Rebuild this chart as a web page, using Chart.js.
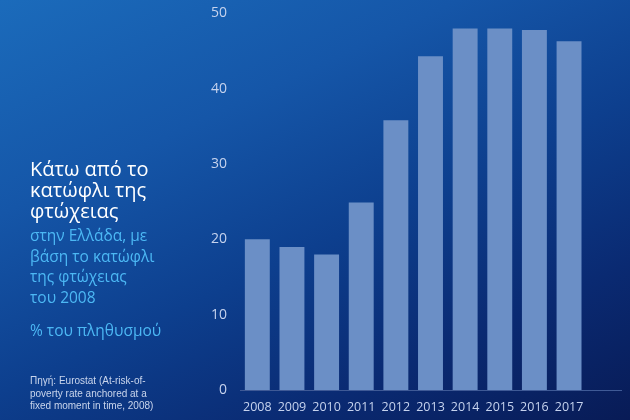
<!DOCTYPE html>
<html>
<head>
<meta charset="utf-8">
<script src="https://cdn.jsdelivr.net/npm/chart.js@4"></script>
<style>
  html, body { margin:0; padding:0; }
  body { width:630px; height:420px; overflow:hidden; font-family:"Open Sans", sans-serif; }
  #wrap { position:relative; width:630px; height:420px; overflow:hidden;
    background: linear-gradient(155deg, #1b6bbb 0%, #1556a8 30%, #0d3f8e 55%, #0a2a72 78%, #081b56 100%); }
  #c { position:absolute; left:0; top:-8px; }
  .t { position:absolute; left:30px; white-space:nowrap; }
  #title { top:158px; color:#ffffff; font-size:20px; line-height:21px; }
  #sub { top:225px; color:#4cb8f4; font-size:15.5px; line-height:20.7px; }
  #unit { top:320px; color:#4cb8f4; font-size:15.5px; line-height:20px; }
  #src { top:375px; color:#c9d5ec; font-size:10px; line-height:12.5px; font-family:"Liberation Sans", Arial, sans-serif; }
</style>
</head>
<body>
<div id="wrap">
  <canvas id="c" width="630" height="428"></canvas>
  <div class="t" id="title">Κάτω από το<br>κατώφλι της<br>φτώχειας</div>
  <div class="t" id="sub">στην Ελλάδα, με<br>βάση το κατώφλι<br>της φτώχειας<br>του 2008</div>
  <div class="t" id="unit">% του πληθυσμού</div>
  <div class="t" id="src">Πηγή: Eurostat (At-risk-of-<br>poverty rate anchored at a<br>fixed moment in time, 2008)</div>
</div>
<script>
const categories = ['2008','2009','2010','2011','2012','2013','2014','2015','2016','2017',''];
const values = [20.0, 19.0, 18.0, 24.9, 35.8, 44.3, 48.0, 48.0, 47.8, 46.3, null];
const yTicks = [0, 10, 20, 30, 40, 50];

new Chart(document.getElementById('c'), {
  type: 'bar',
  data: {
    labels: categories,
    datasets: [{
      data: values,
      backgroundColor: '#6b8fc6',
      borderWidth: 0,
      barPercentage: 0.8,
      categoryPercentage: 0.9
    }]
  },
  options: {
    responsive: false,
    animation: false,
    layout: { padding: { left: 200, right: 9, top: 0, bottom: -5 } },
    plugins: { legend: { display: false }, tooltip: { enabled: false } },
    scales: {
      x: {
        grid: { display: false, drawTicks: false },
        border: { display: true, color: '#3f5a96', width: 1 },
        ticks: { color: '#c6d3ee', font: { family: 'Open Sans', size: 12.5 }, padding: 10, maxRotation: 0, autoSkip: false }
      },
      y: {
        min: 0, max: 50,
        afterFit: (s) => { s.width = 40; },
        afterBuildTicks: (s) => { s.ticks = yTicks.map(v => ({ value: v })); },
        grid: { display: false, drawTicks: false },
        border: { display: false },
        ticks: { color: '#c6d3ee', font: { family: 'Open Sans', size: 14 }, padding: 13 }
      }
    }
  }
});
</script>
</body>
</html>
